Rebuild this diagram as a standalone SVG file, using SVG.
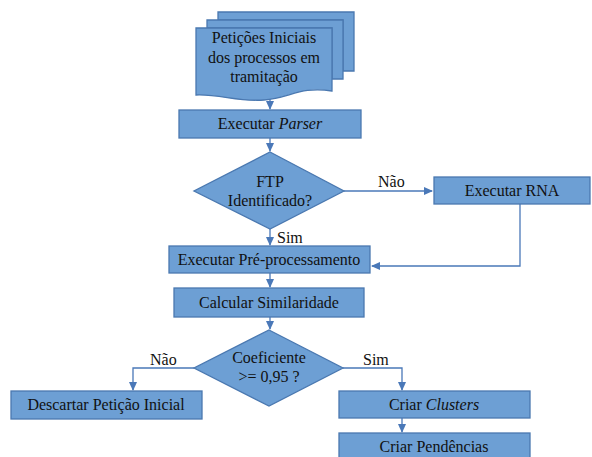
<svg xmlns="http://www.w3.org/2000/svg" width="592" height="457" viewBox="0 0 592 457">
<style>
.n{fill:#6d9fd4;stroke:#4a78b0;stroke-width:1.3}
.t{font-size:16px;fill:#111;text-anchor:middle}
.l{font-size:16px;fill:#111}
.c{fill:none;stroke:#4a78b8;stroke-width:1.3}
</style>
<defs>
<marker id="a" markerWidth="10" markerHeight="10" refX="8" refY="5" orient="auto" markerUnits="userSpaceOnUse">
<path d="M0,1 L9,5 L0,9 Z" fill="#4a78b8"/>
</marker>
</defs>
<rect width="592" height="457" fill="#fff"/>
<g font-family="Liberation Serif, Times New Roman, serif">
<g id="connectors">
<path class="c" d="M270,96 V109" marker-end="url(#a)"/>
<path class="c" d="M270,138 V151" marker-end="url(#a)"/>
<path class="c" d="M344,191 H432" marker-end="url(#a)"/>
<path class="c" d="M270,229 V245" marker-end="url(#a)"/>
<path class="c" d="M520,204 V266 H372" marker-end="url(#a)"/>
<path class="c" d="M270,273 V287" marker-end="url(#a)"/>
<path class="c" d="M270,317 V329" marker-end="url(#a)"/>
<path class="c" d="M194,368 H133 V390" marker-end="url(#a)"/>
<path class="c" d="M343,368 H402 V390" marker-end="url(#a)"/>
<path class="c" d="M402,418 V432" marker-end="url(#a)"/>
<text class="l" x="378" y="187">Não</text>
<text class="l" x="277" y="243">Sim</text>
<text class="l" x="150" y="365">Não</text>
<text class="l" x="363" y="365">Sim</text>
</g>
<g id="peticoes">
<path class="n" d="M218,12 H354 V71 H343 V20 H218 Z"/>
<path class="n" d="M207,20 H343 V79 H332 V28 H207 Z"/>
<path class="n" d="M196,28 H332 V91 C300,86 290,98 264,100 C238,102 220,94 196,95 Z"/>
<text class="t" x="264" y="43">Petições Iniciais</text>
<text class="t" x="264" y="63">dos processos em</text>
<text class="t" x="264" y="82">tramitação</text>
</g>
<g id="parser">
<rect class="n" x="179" y="110" width="182" height="28"/>
<text class="t" x="270" y="129">Executar <tspan font-style="italic">Parser</tspan></text>
</g>
<g id="ftp">
<path class="n" d="M270,152 L344,191 L270,229 L194,191 Z"/>
<text class="t" x="270" y="187">FTP</text>
<text class="t" x="270" y="206">Identificado?</text>
</g>
<g id="rna">
<rect class="n" x="434" y="177" width="156" height="27"/>
<text class="t" x="512" y="196">Executar RNA</text>
</g>
<g id="preproc">
<rect class="n" x="169" y="246" width="201" height="27"/>
<text class="t" x="269" y="265">Executar Pré-processamento</text>
</g>
<g id="similaridade">
<rect class="n" x="174" y="288" width="190" height="29"/>
<text class="t" x="269" y="308">Calcular Similaridade</text>
</g>
<g id="coeficiente">
<path class="n" d="M269,330 L343,368 L269,406 L194,368 Z"/>
<text class="t" x="269" y="363">Coeficiente</text>
<text class="t" x="269" y="382">&gt;= 0,95 ?</text>
</g>
<g id="descartar">
<rect class="n" x="11" y="391" width="191" height="28"/>
<text class="t" x="106" y="410">Descartar Petição Inicial</text>
</g>
<g id="clusters">
<rect class="n" x="339" y="391" width="191" height="27"/>
<text class="t" x="434" y="410">Criar <tspan font-style="italic">Clusters</tspan></text>
</g>
<g id="pendencias">
<rect class="n" x="339" y="433" width="191" height="30"/>
<text class="t" x="434" y="452">Criar Pendências</text>
</g>
</g>
</svg>
